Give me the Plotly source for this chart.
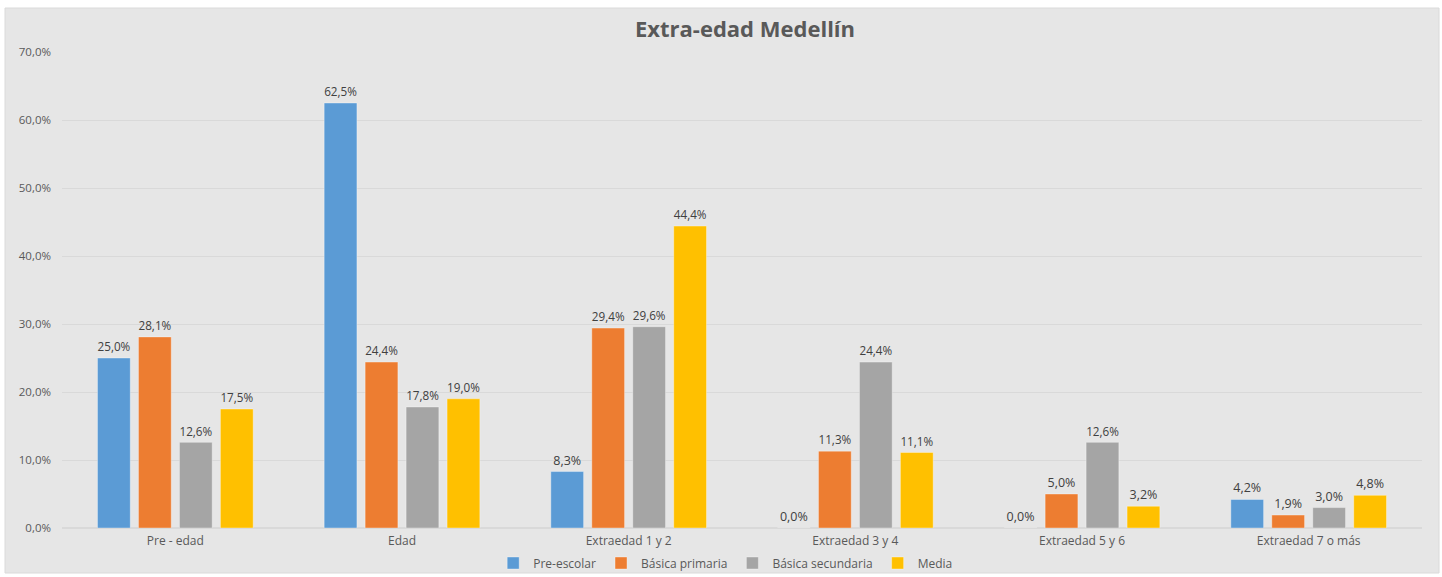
import plotly.graph_objects as go

categories = ["Pre - edad", "Edad", "Extraedad 1 y 2", "Extraedad 3 y 4", "Extraedad 5 y 6", "Extraedad 7 o más"]
preescolar = [0.250, 0.625, 0.083, 0.000, 0.000, 0.042]
basica_primaria = [0.281, 0.244, 0.294, 0.113, 0.050, 0.019]
basica_secundaria = [0.126, 0.178, 0.296, 0.244, 0.126, 0.030]
media = [0.175, 0.190, 0.444, 0.111, 0.032, 0.048]

series = [
    ("Pre-escolar", preescolar, "#5B9BD5"),
    ("Básica primaria", basica_primaria, "#ED7D31"),
    ("Básica secundaria", basica_secundaria, "#A5A5A5"),
    ("Media", media, "#FFC000"),
]

FONT = "Open Sans, sans-serif"
W, H = 1442, 577
L, R, T, B = 62, 20, 52, 49
pw = W - L - R
ph = H - T - B

fig = go.Figure()
for name, vals, color in series:
    fig.add_trace(go.Bar(
        x=categories, y=vals, name=name,
        marker=dict(color=color, line=dict(color="rgba(255,255,255,0.35)", width=1)),
        texttemplate="%{y:.1%}", textposition="outside",
        textfont=dict(family=FONT, size=12.5, color="#404040"),
        cliponaxis=False,
    ))

# chart-area background box
fig.add_shape(type="rect", xref="paper", yref="paper", layer="below",
              x0=(5 - L) / pw, x1=(1439 - L) / pw,
              y0=(H - B - 573) / ph, y1=(H - B - 8) / ph,
              fillcolor="#E6E6E6", line=dict(color="#DADADA", width=1))

fig.update_layout(
    width=W, height=H,
    margin=dict(l=L, r=R, t=T, b=B, autoexpand=False),
    paper_bgcolor="white",
    plot_bgcolor="rgba(0,0,0,0)",
    separators=",.",
    barmode="group",
    bargap=0.277,
    bargroupgap=0.2,
    title=dict(text="<b>Extra-edad Medellín</b>", x=745 / W, xanchor="center",
               y=1 - 29 / H, yanchor="middle", yref="container",
               font=dict(family=FONT, size=22, color="#595959")),
    font=dict(family=FONT, size=11, color="#595959"),
    legend=dict(orientation="h", x=0.488, xanchor="center",
                y=1 - 563 / H, yanchor="middle", yref="container",
                font=dict(family=FONT, size=12, color="#595959"),
                bgcolor="rgba(0,0,0,0)", itemwidth=30),
    showlegend=True,
)
fig.update_yaxes(range=[0, 0.70], dtick=0.10, tickformat=".1%",
                 gridcolor="#D9D9D9", gridwidth=1, zeroline=True, zerolinecolor="#D9D9D9",
                 showline=False, ticks="", ticklen=0, ticklabelstandoff=10,
                 tickfont=dict(family=FONT, size=11.5, color="#595959"))
fig.update_xaxes(showline=False, ticks="", showgrid=False, ticklabelstandoff=4,
                 tickfont=dict(family=FONT, size=12, color="#595959"))

fig.write_html("out.html", config={"displayModeBar": False},
               post_script="document.body.style.margin='0';document.body.style.overflow='hidden';")
